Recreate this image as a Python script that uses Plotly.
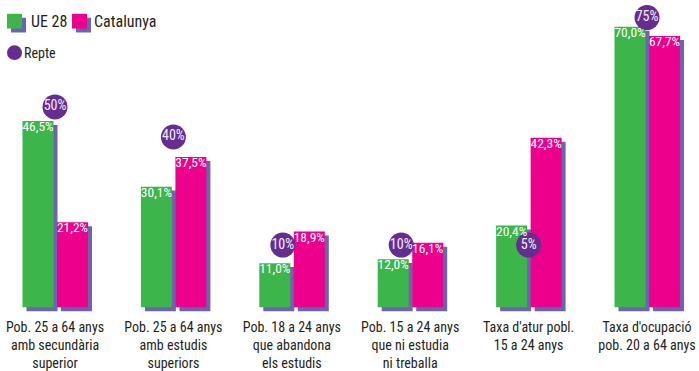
import plotly.graph_objects as go

categories = [
    "Pob. 25 a 64 anys<br>amb secundària<br>superior",
    "Pob. 25 a 64 anys<br>amb estudis<br>superiors",
    "Pob. 18 a 24 anys<br>que abandona<br>els estudis",
    "Pob. 15 a 24 anys<br>que ni estudia<br>ni treballa",
    "Taxa d'atur pobl.<br>15 a 24 anys",
    "Taxa d'ocupació<br>pob. 20 a 64 anys",
]
ue28 = [46.5, 30.1, 11.0, 12.0, 20.4, 70.0]
catalunya = [21.2, 37.5, 18.9, 16.1, 42.3, 67.7]
repte = [50, 40, 10, 10, 5, 75]

GREEN = "#3cb54a"
PINK = "#ec008c"
SHADOW = "#6a65ad"
PURPLE = "#662d91"
DARK = "#231f20"
FONT = "Roboto Condensed, Roboto, sans-serif"

W, H = 699, 371
PLOT_H = 317
Y0, Y1 = -1.2, 76.7
pxu = PLOT_H / (Y1 - Y0)      # pixels per unit (y)
X0, X1 = -0.4645, 5.439
pxx = W / (X1 - X0)           # pixels per category (x)

x = list(range(len(categories)))
bw = 31 / pxx
off_g = -32.5 / pxx
off_p = 2 / pxx
sh_dx = 4 / pxx
sh_dy = 4 / pxu

def fmt(v):
    return f"{v:.1f}".replace(".", ",") + "%"

fig = go.Figure()
# shadows
for vals, off in ((ue28, off_g), (catalunya, off_p)):
    fig.add_trace(go.Bar(x=x, y=vals, base=-sh_dy, width=bw, offset=off + sh_dx,
                         marker=dict(color=SHADOW, line=dict(width=0)),
                         showlegend=False, hoverinfo="skip"))
# bars
fig.add_trace(go.Bar(x=x, y=ue28, width=bw, offset=off_g, name="UE 28",
                     marker=dict(color=GREEN, line=dict(width=0)), showlegend=False))
fig.add_trace(go.Bar(x=x, y=catalunya, width=bw, offset=off_p, name="Catalunya",
                     marker=dict(color=PINK, line=dict(width=0)), showlegend=False))

# Repte circles: placed at the target, kept in the visible band and clear of the
# Catalunya value label (raised above it, or nudged left of the pink bar)
LO, HI, CLEAR = 15.5, 72.3, 5.0
repte_x, repte_y = [], []
for i, (r, c) in enumerate(zip(repte, catalunya)):
    yv = min(max(r, LO), HI)
    xv = i
    if 0 <= yv - c < CLEAR:
        yv = min(c + CLEAR, HI)
    elif 0 < c - yv < CLEAR:
        xv = i - 9 / pxx
    repte_x.append(xv)
    repte_y.append(yv)

fig.add_trace(go.Scatter(x=repte_x, y=repte_y, mode="markers+text", name="Repte",
                         marker=dict(size=25, color=PURPLE, line=dict(width=0)),
                         text=[f"{v}%" for v in repte], textposition="middle center",
                         textfont=dict(family=FONT, size=14, color="#f3eef8"),
                         showlegend=False, cliponaxis=False))

# value labels
fig.add_trace(go.Scatter(x=[i + off_g + bw / 2 for i in x], y=ue28, mode="text",
                         text=[fmt(v) for v in ue28], textposition="bottom center",
                         textfont=dict(family=FONT, size=13.5, color="white"),
                         showlegend=False, hoverinfo="skip"))
fig.add_trace(go.Scatter(x=[i + off_p + bw / 2 for i in x], y=catalunya, mode="text",
                         text=[fmt(v) for v in catalunya], textposition="bottom center",
                         textfont=dict(family=FONT, size=13.5, color="white"),
                         showlegend=False, hoverinfo="skip"))

# manual legend (pixel -> paper)
def px(xp):
    return xp / W
def py(yp):
    return 1 - yp / PLOT_H

shapes = []
for xl, col in ((7, GREEN), (72, PINK)):
    shapes.append(dict(type="rect", xref="paper", yref="paper", x0=px(xl + 4), x1=px(xl + 19),
                       y0=py(33), y1=py(18), fillcolor=SHADOW, line=dict(width=0)))
    shapes.append(dict(type="rect", xref="paper", yref="paper", x0=px(xl), x1=px(xl + 15),
                       y0=py(29), y1=py(14), fillcolor=col, line=dict(width=0)))
shapes.append(dict(type="circle", xref="paper", yref="paper", x0=px(7), x1=px(22),
                   y0=py(61), y1=py(46), fillcolor=PURPLE, line=dict(width=0)))

annotations = [
    dict(text="UE 28", x=px(29), y=py(22), xref="paper", yref="paper", xanchor="left",
         yanchor="middle", showarrow=False, font=dict(family=FONT, size=16, color=DARK)),
    dict(text="Catalunya", x=px(92), y=py(22), xref="paper", yref="paper", xanchor="left",
         yanchor="middle", showarrow=False, font=dict(family=FONT, size=16, color=DARK)),
    dict(text="Repte", x=px(22), y=py(54), xref="paper", yref="paper", xanchor="left",
         yanchor="middle", showarrow=False, font=dict(family=FONT, size=14, color=DARK)),
]

fig.update_layout(
    width=W, height=H,
    margin=dict(l=0, r=0, t=0, b=H - PLOT_H),
    paper_bgcolor="white", plot_bgcolor="white",
    barmode="overlay",
    showlegend=False,
    shapes=shapes, annotations=annotations,
    xaxis=dict(range=[X0, X1], tickvals=x, ticktext=categories, showgrid=False,
               zeroline=False, showline=False, ticks="", tickangle=0,
               ticklabeloverflow="allow", ticklabelstandoff=5,
               tickfont=dict(family=FONT, size=14, color=DARK), fixedrange=True),
    yaxis=dict(range=[Y0, Y1], visible=False, showgrid=False, zeroline=False, fixedrange=True),
)

fig.write_html("out.html", config={"displayModeBar": False},
               post_script="document.body.style.margin='0px';")
